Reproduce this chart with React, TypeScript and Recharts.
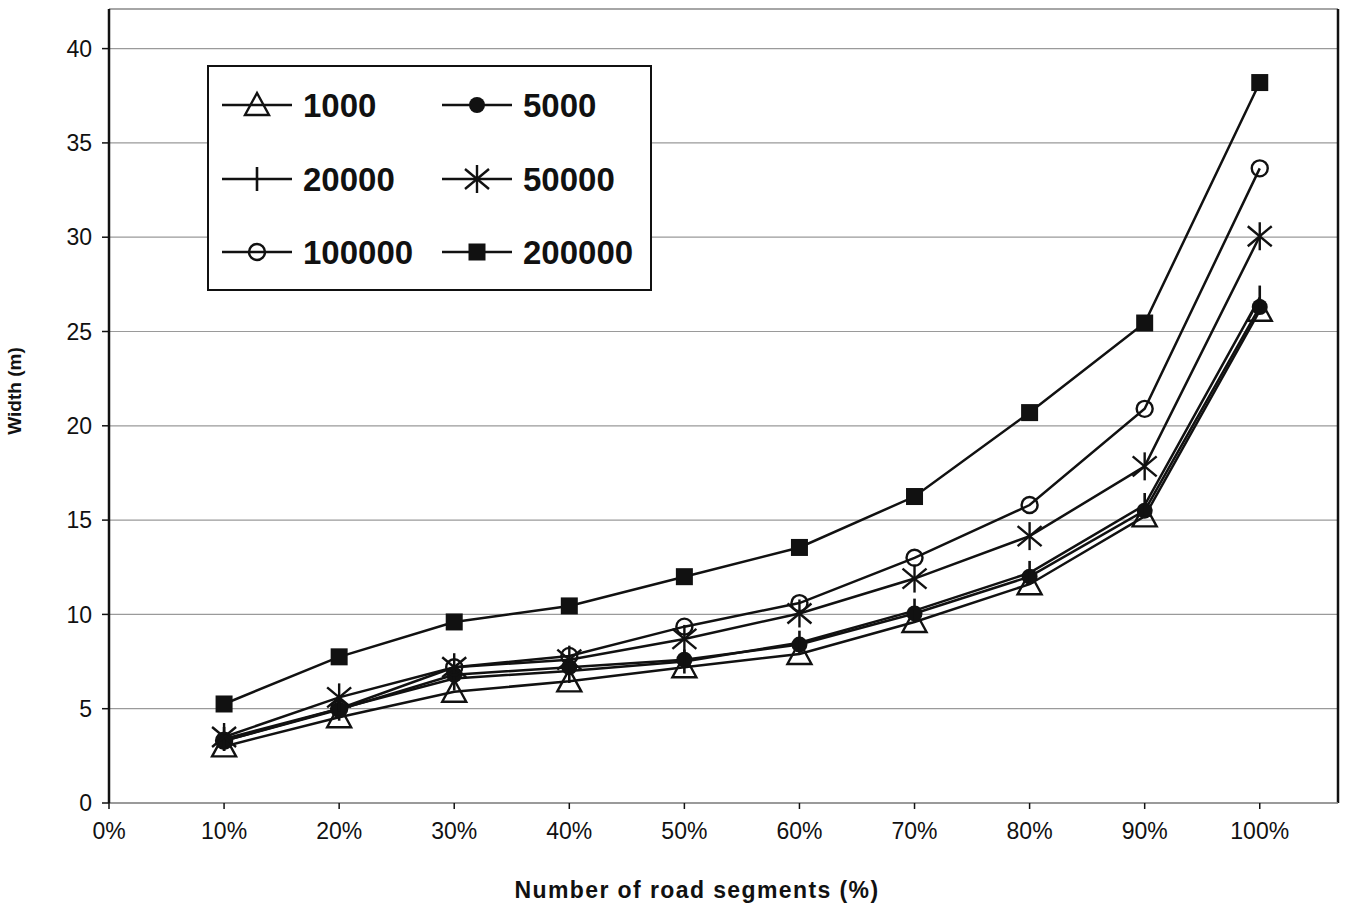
import React from "react";
import {
  LineChart,
  Line,
  XAxis,
  YAxis,
  CartesianGrid,
  ReferenceLine,
  Label,
} from "recharts";

// share of road segments (x) and widths in metres per run size
const SHARE = [0.1, 0.2, 0.3, 0.4, 0.5, 0.6, 0.7, 0.8, 0.9, 1.0];
const W_1000 = [3.0, 4.55, 5.9, 6.45, 7.2, 7.9, 9.6, 11.6, 15.2, 26.1];
const W_5000 = [3.3, 4.95, 6.8, 7.2, 7.6, 8.4, 10.05, 12.0, 15.5, 26.3];
const W_20000 = [3.4, 5.0, 6.6, 7.0, 7.5, 8.5, 10.2, 12.2, 15.8, 26.8];
const W_50000 = [3.5, 5.6, 7.2, 7.6, 8.7, 10.05, 11.9, 14.15, 17.85, 30.05];
const W_100000 = [3.3, 5.0, 7.2, 7.8, 9.35, 10.6, 13.0, 15.8, 20.9, 33.65];
const W_200000 = [5.25, 7.75, 9.6, 10.45, 12.0, 13.55, 16.25, 20.7, 25.45, 38.2];

const X_TICKS = [0, 0.1, 0.2, 0.3, 0.4, 0.5, 0.6, 0.7, 0.8, 0.9, 1.0];
const Y_TICKS = [0, 5, 10, 15, 20, 25, 30, 35, 40];
const X_MAX = 1.068;
const Y_MAX = 42.1;

type Shape = "triangle" | "dot" | "dash" | "star" | "circle" | "square";

const SERIES: { key: string; name: string; values: number[]; shape: Shape }[] = [
  { key: "s1000", name: "1000", values: W_1000, shape: "triangle" },
  { key: "s5000", name: "5000", values: W_5000, shape: "dot" },
  { key: "s20000", name: "20000", values: W_20000, shape: "dash" },
  { key: "s50000", name: "50000", values: W_50000, shape: "star" },
  { key: "s100000", name: "100000", values: W_100000, shape: "circle" },
  { key: "s200000", name: "200000", values: W_200000, shape: "square" },
];

const rows = SHARE.map((x, i) => {
  const r: Record<string, number> = { x };
  SERIES.forEach((s) => (r[s.key] = s.values[i]));
  return r;
});

const FONT = "'Liberation Sans', Arial, Helvetica, sans-serif";
const INK = "#111";

function Marker({ shape, cx, cy }: { shape: Shape; cx: number; cy: number }) {
  switch (shape) {
    case "triangle":
      return (
        <polygon
          points={`${cx},${cy - 12} ${cx - 12},${cy + 10} ${cx + 12},${cy + 10}`}
          fill="none"
          stroke={INK}
          strokeWidth={2.4}
        />
      );
    case "dot":
      return <circle cx={cx} cy={cy} r={8} fill={INK} />;
    case "dash":
      return <line x1={cx} y1={cy - 12} x2={cx} y2={cy + 12} stroke={INK} strokeWidth={2.6} />;
    case "star":
      return (
        <g stroke={INK} strokeWidth={2.4}>
          <line x1={cx} y1={cy - 14} x2={cx} y2={cy + 14} />
          <line x1={cx - 12} y1={cy - 10} x2={cx + 12} y2={cy + 10} />
          <line x1={cx + 12} y1={cy - 10} x2={cx - 12} y2={cy + 10} />
        </g>
      );
    case "circle":
      return <circle cx={cx} cy={cy} r={8} fill="none" stroke={INK} strokeWidth={2.4} />;
    case "square":
      return <rect x={cx - 8.5} y={cy - 8.5} width={17} height={17} fill={INK} />;
  }
}

const makeDot = (shape: Shape) => (p: any) => (
  <Marker key={`${shape}-${p.index}`} shape={shape} cx={p.cx} cy={p.cy} />
);

function LegendBox() {
  const rowsY = [40, 114, 187];
  return (
    <svg
      width={445}
      height={226}
      style={{ position: "absolute", left: 207, top: 65 }}
    >
      <rect x={1} y={1} width={443} height={224} fill="#fff" stroke={INK} strokeWidth={2} />
      {SERIES.map((s, i) => {
        const col = i % 2;
        const y = rowsY[Math.floor(i / 2)];
        const lx = col === 0 ? 15 : 235;
        return (
          <g key={s.key}>
            <line x1={lx} y1={y} x2={lx + 70} y2={y} stroke={INK} strokeWidth={2.5} />
            <Marker shape={s.shape} cx={lx + 35} cy={y} />
            <text
              x={lx + 81}
              y={y + 12}
              fontFamily={FONT}
              fontWeight="bold"
              fontSize={33}
              fill={INK}
            >
              {s.name}
            </text>
          </g>
        );
      })}
    </svg>
  );
}

export default function App() {
  return (
    <div style={{ position: "absolute", left: 0, top: 0, width: 1350, height: 909, background: "#fff" }}>
      <LineChart
        width={1350}
        height={909}
        data={rows}
        margin={{ top: 9, right: 12, left: 0, bottom: 0 }}
      >
        <CartesianGrid vertical={false} stroke="#9a9a9a" strokeWidth={1.2} />
        <XAxis
          dataKey="x"
          type="number"
          domain={[0, X_MAX]}
          ticks={X_TICKS}
          allowDataOverflow
          tickFormatter={(v: number) => `${Math.round(v * 100)}%`}
          height={106}
          stroke="#8a8a8a"
          strokeWidth={1.5}
          tickSize={6}
          tickMargin={14}
          tick={{ fontFamily: FONT, fontSize: 23, fill: INK }}
          tickLine={{ stroke: INK }}
        >
          <Label
            content={() => (
              <text
                x={697}
                y={898}
                textAnchor="middle"
                fontFamily={FONT}
                fontWeight="bold"
                fontSize={23}
                letterSpacing={1.4}
                fill={INK}
              >
                Number of road segments (%)
              </text>
            )}
          />
        </XAxis>
        <YAxis
          type="number"
          domain={[0, Y_MAX]}
          ticks={Y_TICKS}
          allowDataOverflow
          width={109}
          stroke={INK}
          strokeWidth={2.5}
          tickSize={7}
          tickMargin={10}
          tick={{ fontFamily: FONT, fontSize: 23, fill: INK }}
          tickLine={{ stroke: INK, strokeWidth: 1.5 }}
        >
          <Label
            content={() => (
              <text
                x={0}
                y={0}
                transform="translate(21 391) rotate(-90)"
                textAnchor="middle"
                fontFamily={FONT}
                fontWeight="bold"
                fontSize={19}
                fill={INK}
              >
                Width (m)
              </text>
            )}
          />
        </YAxis>
        <ReferenceLine y={Y_MAX} stroke="#9a9a9a" strokeWidth={1.5} />
        <ReferenceLine x={X_MAX} stroke={INK} strokeWidth={2.5} />
        {SERIES.map((s) => (
          <Line
            key={s.key}
            dataKey={s.key}
            name={s.name}
            type="linear"
            stroke={INK}
            strokeWidth={2.5}
            dot={makeDot(s.shape)}
            activeDot={false}
            isAnimationActive={false}
          />
        ))}
      </LineChart>
      <LegendBox />
    </div>
  );
}
